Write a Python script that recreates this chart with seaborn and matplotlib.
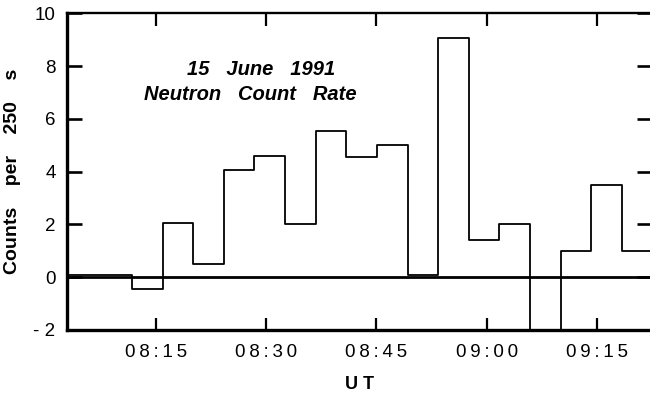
import numpy as np
import pandas as pd
import matplotlib
matplotlib.use("Agg")
import matplotlib.pyplot as plt
import seaborn as sns

# Bin start times (UT), 250 s bins, and the count rate in each bin
bin_starts = ["07:59:14", "08:03:24", "08:07:34", "08:11:44", "08:15:54",
              "08:20:04", "08:24:14", "08:28:24", "08:32:34", "08:36:44",
              "08:40:54", "08:45:04", "08:49:14", "08:53:24", "08:57:34",
              "09:01:44", "09:05:54", "09:10:04", "09:14:14", "09:18:24"]
bin_end = "09:22:34"
counts = [0.08, 0.08, 0.08, -0.45, 2.05, 0.5, 4.05, 4.6, 2.0, 5.55,
          4.55, 5.0, 0.08, 9.05, 1.4, 2.0, -2.0, 1.0, 3.5, 1.0]

tick_labels = ["08:15", "08:30", "08:45", "09:00", "09:15"]
y_ticks = [-2, 0, 2, 4, 6, 8, 10]


def to_min(s):
    # minutes after 08:00
    t = pd.to_timedelta(s)
    return t.total_seconds() / 60.0 - 480.0


def spaced(s):
    # the original lettering is widely tracked
    return "\u2009".join(s)


edges = [to_min(s) for s in bin_starts] + [to_min(bin_end)]
df = pd.DataFrame({"t": edges, "c": counts + [counts[-1]]})
tick_pos = [to_min(s + ":00") for s in tick_labels]

sns.set_style("white")
plt.rcParams["font.family"] = ["Liberation Sans", "DejaVu Sans"]
plt.rcParams["text.color"] = "black"
plt.rcParams["axes.labelcolor"] = "black"
plt.rcParams["xtick.color"] = "black"
plt.rcParams["ytick.color"] = "black"

fig = plt.figure(figsize=(6.5, 3.97), dpi=100)
ax = fig.add_axes([0.1026, 0.1688, 0.9004, 0.7977])

sns.lineplot(data=df, x="t", y="c", drawstyle="steps-post", estimator=None,
             color="black", linewidth=1.3, ax=ax)
ax.axhline(0, color="black", linewidth=2.0, zorder=1)

ax.set_xlim(2.85, 82.5)
ax.set_ylim(-2, 10)
ax.set_xticks(tick_pos)
ax.set_xticklabels([spaced(s) for s in tick_labels])
ax.set_yticks(y_ticks)
ax.set_yticklabels([str(v) if v >= 0 else "- 2" for v in y_ticks])

for side, lw in [("left", 2.4), ("bottom", 2.4), ("top", 1.7), ("right", 1.7)]:
    ax.spines[side].set_linewidth(lw)
    ax.spines[side].set_color("black")

ax.tick_params(axis="x", direction="in", length=9, width=1.6, top=True,
               bottom=True, labelsize=13.5, pad=10)
ax.tick_params(axis="y", direction="in", length=11, width=1.9, left=True,
               right=True, labelsize=13.5, pad=8)

ax.set_xlabel("U T", fontsize=13, fontweight="bold", labelpad=11)
ax.set_ylabel("Counts    per    250    s", fontsize=14, fontweight="bold",
              labelpad=9)

ax.text(29.3, 7.88, "15   June   1991", fontsize=14.5, fontweight="bold",
        style="italic", ha="center", va="center")
ax.text(27.8, 6.93, "Neutron   Count   Rate", fontsize=14.5, fontweight="bold",
        style="italic", ha="center", va="center")

fig.savefig("out.png", dpi=100)
